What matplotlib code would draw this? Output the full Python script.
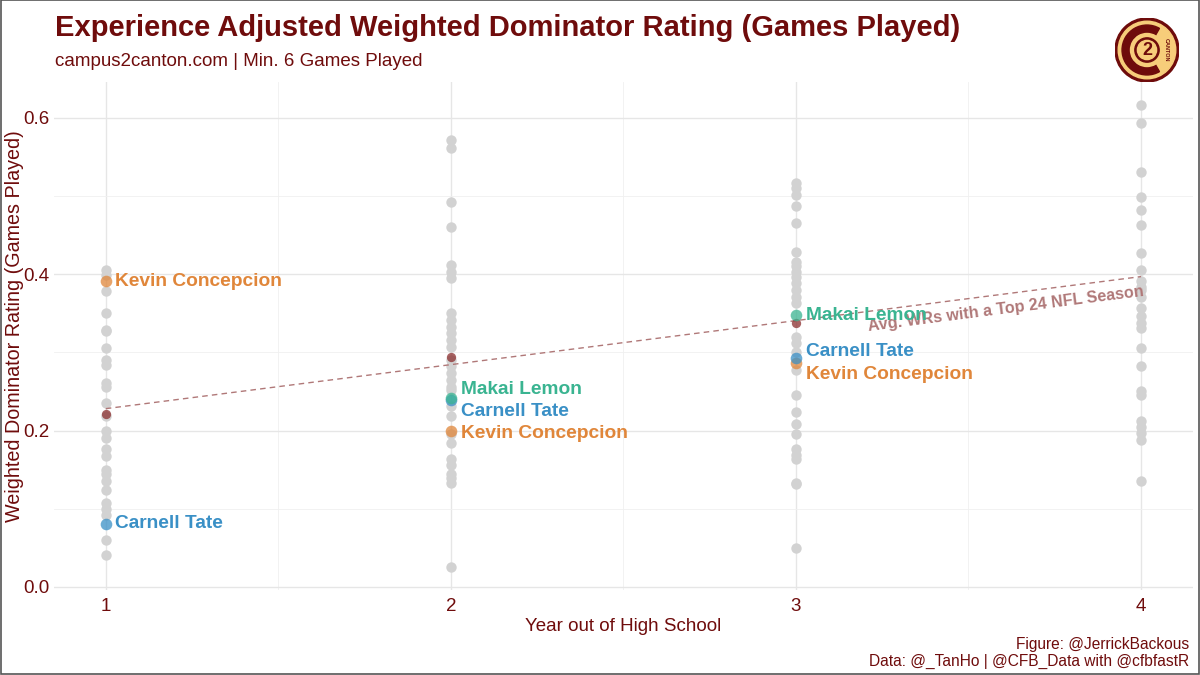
import matplotlib
matplotlib.use("Agg")
import matplotlib.pyplot as plt
from matplotlib.patches import Circle, Wedge, Rectangle
import numpy as np

plt.rcParams['font.family'] = ['Liberation Sans', 'DejaVu Sans']

# ---------------- data ----------------
years = [1, 2, 3, 4]
yr1_vals = [0.406, 0.399, 0.378, 0.351, 0.329, 0.327, 0.305, 0.290, 0.284, 0.261,
            0.256, 0.235, 0.218, 0.199, 0.190, 0.177, 0.167, 0.150, 0.145, 0.135,
            0.124, 0.107, 0.099, 0.092, 0.060, 0.041]
yr2_vals = [0.572, 0.561, 0.493, 0.461, 0.412, 0.403, 0.395, 0.350, 0.342, 0.333,
            0.325, 0.316, 0.307, 0.290, 0.282, 0.273, 0.265, 0.256, 0.252, 0.231,
            0.218, 0.195, 0.184, 0.163, 0.156, 0.145, 0.139, 0.133, 0.026]
yr3_vals = [0.517, 0.510, 0.502, 0.487, 0.465, 0.429, 0.416, 0.410, 0.403, 0.397,
            0.389, 0.380, 0.371, 0.363, 0.320, 0.312, 0.301, 0.278, 0.246, 0.224,
            0.209, 0.195, 0.177, 0.169, 0.163, 0.133, 0.131, 0.050]
yr4_vals = [0.617, 0.593, 0.531, 0.499, 0.482, 0.463, 0.427, 0.406, 0.391, 0.384,
            0.380, 0.371, 0.357, 0.346, 0.337, 0.331, 0.305, 0.282, 0.250, 0.246,
            0.212, 0.205, 0.197, 0.188, 0.136]

avg_years = [1, 2, 3]
avg_vals = [0.221, 0.294, 0.337]
trend_years = [1, 4]
trend_vals = [0.228, 0.397]
trend_label = "Avg. WRs with a Top 24 NFL Season"

players = ["Kevin Concepcion", "Carnell Tate", "Makai Lemon"]
kevin_years = [1, 2, 3]
kevin_vals = [0.391, 0.199, 0.286]
carnell_years = [1, 2, 3]
carnell_vals = [0.081, 0.239, 0.293]
makai_years = [2, 3]
makai_vals = [0.241, 0.348]

title = "Experience Adjusted Weighted Dominator Rating (Games Played)"
subtitle = "campus2canton.com | Min. 6 Games Played"
caption = "Figure: @JerrickBackous\nData: @_TanHo | @CFB_Data with @cfbfastR"
xlabel = "Year out of High School"
ylabel = "Weighted Dominator Rating (Games Played)"

# ---------------- style ----------------
MAROON = "#6f0c0c"
GREY = "#d2d2d2"
colors = {"Kevin Concepcion": "#e0863a", "Carnell Tate": "#3a90c6", "Makai Lemon": "#3ab491"}
# label vertical nudges in pixels (repel-like placement), per player per year
nudges = {"Kevin Concepcion": [0, -2, -11], "Carnell Tate": [0, -11, 6], "Makai Lemon": [9, -1]}

fig = plt.figure(figsize=(12, 6.75), dpi=100)
fig.patch.set_facecolor("white")
ax = fig.add_axes([0.045, 0.126, 0.949, 0.7525])
ax.set_facecolor("white")

ax.set_xlim(0.85, 4.15)
ax.set_ylim(-0.004, 0.646)
ax.set_xticks(years)
ax.set_xticks([1.5, 2.5, 3.5], minor=True)
ax.set_yticks([0.0, 0.2, 0.4, 0.6])
ax.set_yticks([0.1, 0.3, 0.5], minor=True)
ax.set_yticklabels(["0.0", "0.2", "0.4", "0.6"])
ax.grid(which="major", color="#e6e6e6", linewidth=1.0)
ax.grid(which="minor", color="#f0f0f0", linewidth=0.6)
ax.set_axisbelow(True)
for s in ax.spines.values():
    s.set_visible(False)
ax.tick_params(which="both", length=0, labelsize=13.5, labelcolor=MAROON)
ax.tick_params(axis="y", pad=3.5)
ax.tick_params(axis="x", pad=6)

# grey points
for yr, vals in zip(years, [yr1_vals, yr2_vals, yr3_vals, yr4_vals]):
    ax.scatter([yr] * len(vals), vals, s=56, color=GREY, linewidths=0, zorder=2)

# trend line and avg points
ax.plot(trend_years, trend_vals, linestyle=(0, (4, 3)), color="#b07878", linewidth=1.0, zorder=3)
ax.scatter(avg_years, avg_vals, s=45, color="#8b2f2f", alpha=0.75, linewidths=0, zorder=3)

# trend label, rotated along the line
p0 = ax.transData.transform((trend_years[0], trend_vals[0]))
p1 = ax.transData.transform((trend_years[1], trend_vals[1]))
ang = np.degrees(np.arctan2(p1[1] - p0[1], p1[0] - p0[0]))
ax.annotate(trend_label, xy=(trend_years[1], trend_vals[1]), xytext=(1, -5),
            textcoords="offset points", ha="right", va="top", rotation=ang,
            rotation_mode="anchor", fontsize=11.6, fontweight="bold", color="#b07878", zorder=4)

# players
for name, yrs, vals in [("Kevin Concepcion", kevin_years, kevin_vals),
                        ("Carnell Tate", carnell_years, carnell_vals),
                        ("Makai Lemon", makai_years, makai_vals)]:
    c = colors[name]
    ax.scatter(yrs, vals, s=70, color=c, alpha=0.75, linewidths=0, zorder=5)
    for yr, v, nd in zip(yrs, vals, nudges[name]):
        ax.annotate(name, xy=(yr, v), xytext=(7, nd * 0.72), textcoords="offset points",
                    ha="left", va="center", fontsize=13.8, fontweight="bold", color=c, zorder=6)

ax.set_xlabel(xlabel, fontsize=13.5, color=MAROON, labelpad=2)
fig.text(15 / 1200, 1 - 326 / 675, ylabel, fontsize=14.2, color=MAROON, rotation=90,
         ha="center", va="center")

# titles
fig.text(0.046, 0.958, title, fontsize=21, fontweight="bold", color=MAROON, ha="left", va="center")
fig.text(0.046, 0.909, subtitle, fontsize=13.5, color=MAROON, ha="left", va="center")
fig.text(0.991, 0.032, caption, fontsize=11.2, color=MAROON, ha="right", va="center", linespacing=1.15)

# border
fig.patches.append(Rectangle((0.0005, 0.0008), 0.999, 0.9985, transform=fig.transFigure,
                             fill=False, edgecolor="#555555", linewidth=1.2))

# logo
lax = fig.add_axes([1115 / 1200, 1 - 84 / 675, 64 / 1200, 68 / 675])
lax.set_xlim(-1, 1)
lax.set_ylim(-1, 1)
lax.set_aspect("equal")
lax.axis("off")
GOLD = "#f7cd7a"
DK = "#6e0b0b"
lax.add_patch(Circle((0, 0), 1.0, color=DK))
lax.add_patch(Circle((0, 0), 0.9, color=GOLD))
lax.add_patch(Wedge((0, 0), 0.78, 60, 300, width=0.22, color=DK))
lax.add_patch(Circle((0, 0), 0.38, color=DK))
lax.add_patch(Circle((0, 0), 0.3, color=GOLD))
lax.text(0, -0.02, "2", ha="center", va="center", fontsize=13, fontweight="bold", color=DK)
lax.text(0.6, 0.0, "CANTON", ha="center", va="center", fontsize=4, fontweight="bold", color=DK, rotation=-90)

fig.savefig("out.png", dpi=100, facecolor="white")
